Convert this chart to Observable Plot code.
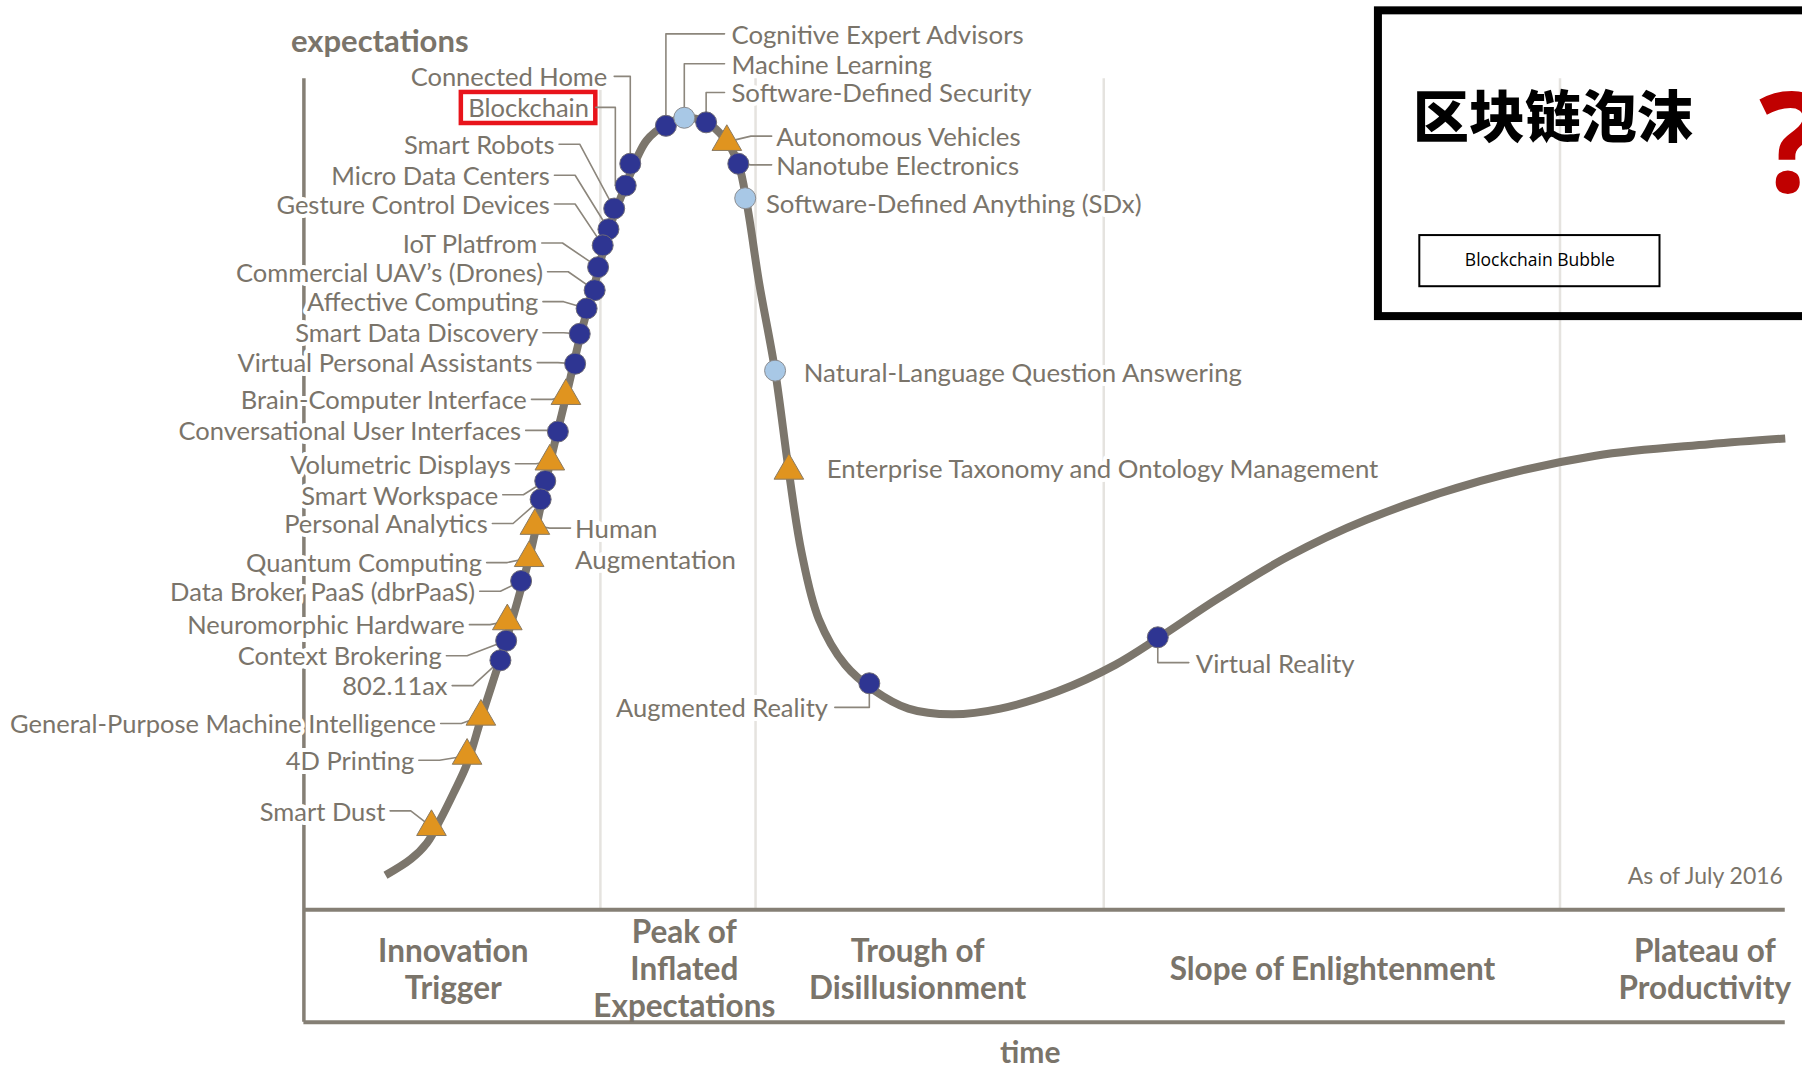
<!DOCTYPE html>
<html><head><meta charset="utf-8">
<script src="https://cdn.jsdelivr.net/npm/d3@7"></script>
<script src="https://cdn.jsdelivr.net/npm/@observablehq/plot@0.6"></script>
<style>html,body{margin:0;padding:0;background:#fff;overflow:hidden}#chart svg{display:block}</style>
</head><body><div id="chart"></div>
<script>
// ---- hype curve (time, expectations) ----
const curveTime   = [335,357,371,383,394,406,419,441,460,478,492,505,518,530,544,562,579,595,614,630,642,650,660,674,686,697,712,735,760,790,828,870,920,970,1007,1060,1120,1188,1288,1388,1487,1553];
const curveExpect = [169,183,197,218,240,266,308,377,445,527,585,640,687,732,769,808,822,828,824,810,788,750,685,608,520,450,392,352,330,314,309,314,329,352,375,410,446,478,512,534,544,549];

// ---- technologies ----
const techNames = ["Connected Home","Blockchain","Smart Robots","Micro Data Centers","Gesture Control Devices","IoT Platfrom","Commercial UAV’s (Drones)","Affective Computing","Smart Data Discovery","Virtual Personal Assistants","Brain-Computer Interface","Conversational User Interfaces","Volumetric Displays","Smart Workspace","Personal Analytics","Quantum Computing","Data Broker PaaS (dbrPaaS)","Neuromorphic Hardware","Context Brokering","802.11ax","General-Purpose Machine Intelligence","4D Printing","Smart Dust","Augmented Reality","Cognitive Expert Advisors","Machine Learning","Software-Defined Security","Autonomous Vehicles","Nanotube Electronics","Software-Defined Anything (SDx)","Natural-Language Question Answering","Enterprise Taxonomy and Ontology Management","Human\nAugmentation","Virtual Reality"];
const techType = ["dot","dot","dot","dot","dot","dot","dot","dot","dot","dot","tri","dot","tri","dot","dot","tri","dot","tri","dot","dot","tri","tri","tri","dot","dot","light","dot","tri","dot","light","light","tri","tri","dot"];
const techTime   = [548,544,534,529,524,520,517,510,504,500,492,485,478,474,470,460,453,441,440,435,418,406,375,756,579,595,614,632,642,648,674,686,465,1007];
const techExpect = [788,769,749,731,717,698,678,662,640,614,586,555,529,512,496,445,425,390,373,356,307,273,211,336,821,828,824,807,788,758,608,521,473,376];
const labelTime   = [528,512,482,478,478,467,472,468,468,463,458,453,444,433,424,419,413,404,384,389,379,360,335,720,636,636,636,675,675,666,699,719,500,1040];
const labelExpect = [864,837,805,778,753,719,694,668,641,615,583,556,527,500,475,441,416,387,360,334,301,269,225,315,901,875,850,812,787,754,607,523,471,354];
const labelSide = ["end","end","end","end","end","end","end","end","end","end","end","end","end","end","end","end","end","end","end","end","end","end","end","end","start","start","start","start","start","start","start","start","start","start"];
const leaderKind = ["hv","hv","diag","diag","diag","diag","diag","diag","diag","diag","diag","diag","diag","diag","diag","diag","diag","diag","diag","diag","diag","diag","diag","hv","vh","vh","vh","diag","diag","none","none","none","diag","vh"];
const leaderElbow = {1: 535};

// ---- phases ----
const phaseNames = ["Innovation\nTrigger","Peak of\nInflated\nExpectations","Trough of\nDisillusionment","Slope of Enlightenment","Plateau of\nProductivity"];
const phaseTime = [394,595,798,1159,1483];
const phaseBounds = [522,657,960,1357];

// ---- annotations ----
const highlightBox = [401,518,823,850];      // time1,time2,exp1,exp2 around "Blockchain"
const calloutBox = [1199,1620,655,921];
const calloutInner = [1235,1444,681,725.5];
const calloutTitle = "区块链泡沫";
const calloutSub = "Blockchain Bubble";

const C = {text:"#7a746a", curve:"#7c766c", lead:"#8c867c", dark:"#2e3592", light:"#a8c8e6", tri:"#e0941f", grid:"#e5e3df", axis:"#857f75"};
const FONT = "Lato, 'Liberation Sans', sans-serif";

const curve = curveTime.map((t,i)=>({t, e: curveExpect[i]}));
const items = techNames.map((name,i)=>({name, type:techType[i], t:techTime[i], e:techExpect[i], lx:labelTime[i], ly:labelExpect[i], side:labelSide[i], kind:leaderKind[i], elbow:leaderElbow[i]}));
const LS = 27; // line spacing in expectation units
items.forEach(d => { const n = d.name.split("\n").length; d.ty = d.ly - (n-1)*LS/2; });

const leaders = [];
items.forEach((d,i)=>{
  let pts;
  const dir = d.side === "end" ? 1 : -1;
  if (d.kind === "diag") pts = [[d.lx+dir*4, d.ly],[d.lx+dir*22, d.ly],[d.t, d.e]];
  else if (d.kind === "hv") { const ex = d.elbow ?? d.t; pts = [[d.lx+6, d.ly],[ex, d.ly],[ex, d.e]]; }
  else if (d.kind === "vh") pts = [[d.t, d.e],[d.t, d.ly],[d.lx-6, d.ly]];
  else return;
  pts.forEach(p => leaders.push({id:i, x:p[0], y:p[1]}));
});
const phases = phaseNames.map((name,i)=>({name, t:phaseTime[i]}));

const chart = Plot.plot({
  width:1802, height:1069, margin:0,
  x:{domain:[0,1568], axis:null},
  y:{domain:[0,930], axis:null},
  style:{background:"#fff"},
  marks:[
    Plot.ruleX(phaseBounds, {y1:139, y2:862, stroke:C.grid, strokeWidth:2.5}),
    Plot.ruleX([264], {y1:41, y2:862, stroke:C.axis, strokeWidth:3.5}),
    Plot.ruleY([139,41], {x1:264, x2:1553, stroke:C.axis, strokeWidth:4}),
    Plot.text(items, {filter:d=>d.side==="end", x:"lx", y:"ty", text:"name", textAnchor:"end", fill:C.text, stroke:"white", strokeWidth:8, fontSize:25.5, fontFamily:FONT, lineHeight:1.2}),
    Plot.text(items, {filter:d=>d.side==="start", x:"lx", y:"ty", text:"name", textAnchor:"start", fill:C.text, stroke:"white", strokeWidth:8, fontSize:25.8, fontFamily:FONT, lineHeight:1.2}),
    Plot.rect([highlightBox], {x1:d=>d[0], x2:d=>d[1], y1:d=>d[2], y2:d=>d[3], fill:"none", stroke:"#e8141b", strokeWidth:4.5}),
    Plot.line(leaders, {x:"x", y:"y", z:"id", stroke:C.lead, strokeWidth:1.6}),
    Plot.line(curve, {x:"t", y:"e", curve:"catmull-rom", stroke:C.curve, strokeWidth:8, strokeLinecap:"butt"}),
    Plot.dot(items, {filter:d=>d.type==="dot", x:"t", y:"e", r:10.5, fill:C.dark, stroke:"#6d6a78", strokeWidth:1}),
    Plot.dot(items, {filter:d=>d.type==="light", x:"t", y:"e", r:10.5, fill:C.light, stroke:"#8a8c90", strokeWidth:1}),
    Plot.dot(items, {filter:d=>d.type==="tri", x:"t", y:"e", r:11, symbol:"triangle", fill:C.tri, stroke:"#8a7a62", strokeWidth:1}),
    Plot.text(phases, {x:"t", y:88, text:"name", fill:C.text, fontSize:31.5, fontWeight:700, fontFamily:FONT, lineHeight:1.18}),
    Plot.text(["expectations"], {x:330, y:894, text:d=>d, fill:C.text, fontSize:31, fontWeight:700, fontFamily:FONT}),
    Plot.text(["time"], {x:896, y:14, text:d=>d, fill:C.text, fontSize:30, fontWeight:700, fontFamily:FONT}),
    Plot.text(["As of July 2016"], {x:1551, y:168, text:d=>d, textAnchor:"end", fill:C.text, fontSize:23, fontFamily:FONT}),
    Plot.rect([calloutBox], {x1:d=>d[0], x2:d=>d[1], y1:d=>d[2], y2:d=>d[3], fill:"none", stroke:"#000", strokeWidth:8}),
    Plot.rect([calloutInner], {x1:d=>d[0], x2:d=>d[1], y1:d=>d[2], y2:d=>d[3], fill:"none", stroke:"#000", strokeWidth:2}),
    Plot.text([calloutTitle], {x:1229, y:827, text:d=>d, textAnchor:"start", fill:"#000", fontSize:56, fontWeight:900, fontFamily:"'Noto Sans CJK SC', sans-serif"}),
    Plot.text(["?"], {x:1530, y:802, text:d=>d, textAnchor:"start", fill:"#c00000", fontSize:140, fontWeight:700, fontFamily:"'Noto Sans', sans-serif"}),
    Plot.text([calloutSub], {x:1339.5, y:704, text:d=>d, fill:"#000", fontSize:17.5, fontFamily:"'Open Sans', sans-serif"})
  ]
});
document.getElementById("chart").append(chart);
</script>
</body></html>
